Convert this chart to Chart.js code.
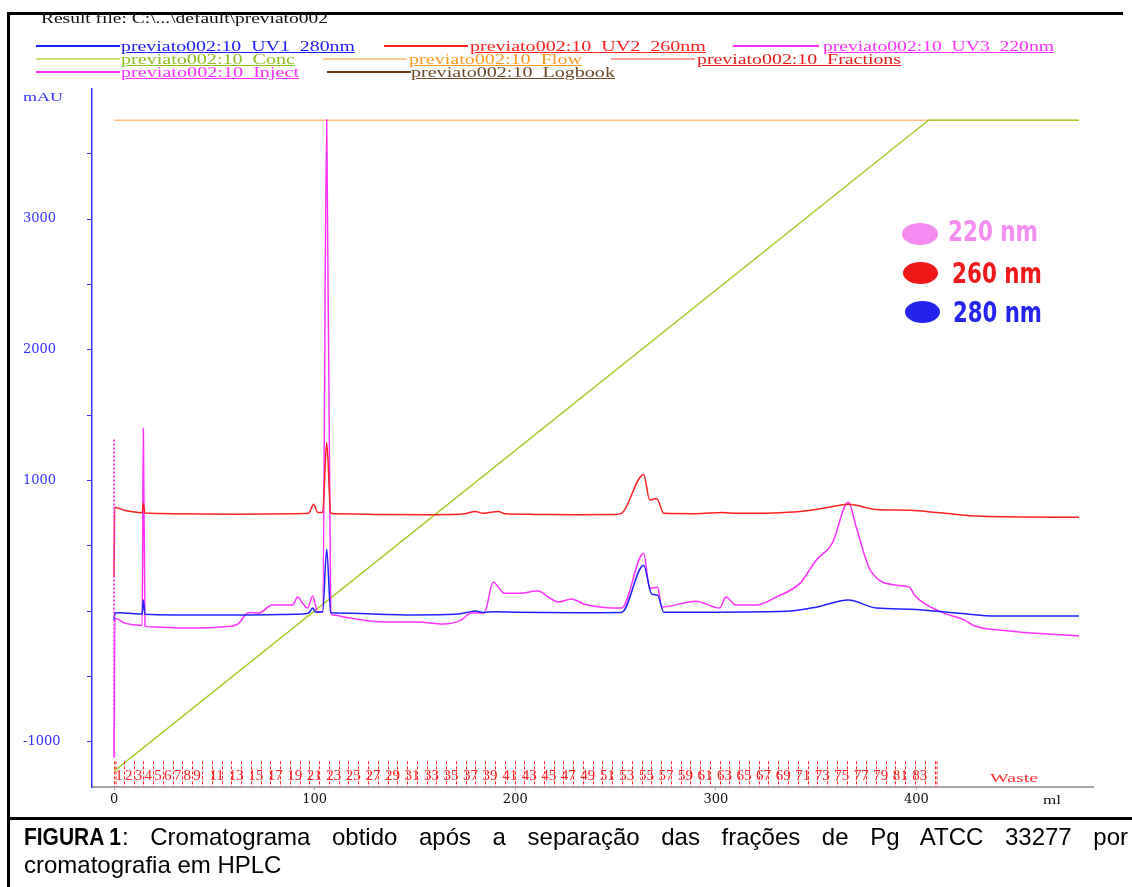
<!DOCTYPE html>
<html>
<head>
<meta charset="utf-8">
<script src="https://cdn.jsdelivr.net/npm/chart.js@4.4.0/dist/chart.umd.min.js"></script>
<style>
html, body { margin: 0; padding: 0; background: #fff; }
#wrap { position: relative; width: 1132px; height: 887px; overflow: hidden; }
#chart { position: absolute; left: 0; top: 0; }
.t { position: absolute; white-space: nowrap; transform-origin: 0 50%;
     font-family: "Liberation Serif", "Times New Roman", serif; font-size: 14px; line-height: 14px; }
.u { text-decoration: underline; }
.ln { position: absolute; height: 2px; }
.bar { position: absolute; background: #000; }
.dot { position: absolute; border-radius: 50%; }
.nm { position: absolute; white-space: nowrap; transform-origin: 0 50%;
      font-family: "DejaVu Sans Condensed", "DejaVu Sans", sans-serif; font-stretch: condensed;
      font-weight: bold; font-size: 29px; line-height: 29px; }
.cap { position: absolute; left: 24px; width: 1104px; white-space: nowrap;
       font-family: "Liberation Sans", Arial, sans-serif; font-size: 24px; line-height: 28px; color: #000; }
#cap1 { top: 823px; text-align: justify; text-align-last: justify; white-space: normal; }
#cap2 { top: 851px; }
#fig { display: inline-block; width: 98px; }
#fig b { display: inline-block; transform-origin: 0 50%; white-space: nowrap; }
</style>
</head>
<body>
<div id="wrap">
  <canvas id="chart" width="1132" height="887"></canvas>

  <!-- frame -->
  <div class="bar" style="left:7px;top:12px;width:3px;height:875px"></div>
  <div class="bar" style="left:7px;top:12px;width:1116px;height:3px"></div>
  <div class="bar" style="left:7px;top:817px;width:1125px;height:3px"></div>

  <div class="t" style="left:41px;top:11px;font-size:15px;line-height:15px;color:#111" data-w="287">Result file: C:\...\default\previato002</div>

  <!-- legend row 1 -->
  <div class="ln" style="left:36px;top:45px;width:84px;background:#2020ff"></div>
  <div class="t u" style="left:121px;top:40px;color:#2020ff" data-w="234">previato002:10_UV1_280nm</div>
  <div class="ln" style="left:384px;top:45px;width:84px;background:#ff2020"></div>
  <div class="t u" style="left:470px;top:40px;color:#ff2020" data-w="236">previato002:10_UV2_260nm</div>
  <div class="ln" style="left:733px;top:45px;width:86px;background:#ff30ff"></div>
  <div class="t u" style="left:823px;top:40px;color:#ff30ff" data-w="231">previato002:10_UV3_220nm</div>
  <!-- legend row 2 -->
  <div class="ln" style="left:36px;top:58px;width:84px;background:#c6e07c"></div>
  <div class="t u" style="left:121px;top:53px;color:#8cbf1e" data-w="174">previato002:10_Conc</div>
  <div class="ln" style="left:323px;top:58px;width:84px;background:#ffc88c"></div>
  <div class="t u" style="left:409px;top:53px;color:#ff9a20" data-w="173">previato002:10_Flow</div>
  <div class="ln" style="left:611px;top:58px;width:84px;background:#ffa0a0"></div>
  <div class="t u" style="left:697px;top:53px;color:#e81818" data-w="204">previato002:10_Fractions</div>
  <!-- legend row 3 -->
  <div class="ln" style="left:36px;top:71px;width:84px;background:#ff30ff"></div>
  <div class="t u" style="left:121px;top:66px;color:#ff30ff" data-w="178">previato002:10_Inject</div>
  <div class="ln" style="left:327px;top:71px;width:84px;background:#6b3a10"></div>
  <div class="t u" style="left:411px;top:66px;color:#6b4a2a" data-w="204">previato002:10_Logbook</div>

  <!-- axis units -->
  <div class="t" style="left:23px;top:90px;font-size:13px;color:#3030ff" data-w="40">mAU</div>
  <div class="t" style="left:1043px;top:793px;font-size:13px;color:#111" data-w="18">ml</div>
  <div class="t" style="left:990px;top:771px;font-size:13px;color:#ff3030" data-w="48">Waste</div>

  <!-- wavelength key -->
  <div class="dot" style="left:902px;top:223px;width:36px;height:22px;background:#f58cf2"></div>
  <div class="nm" style="left:948px;top:217px;color:#f58cf2" data-w="90">220 nm</div>
  <div class="dot" style="left:903px;top:262px;width:35px;height:22px;background:#f01818"></div>
  <div class="nm" style="left:952px;top:259px;color:#f01818" data-w="90">260 nm</div>
  <div class="dot" style="left:905px;top:301px;width:35px;height:22px;background:#2424ee"></div>
  <div class="nm" style="left:953px;top:298px;color:#2424ee" data-w="89">280 nm</div>

  <div class="cap" id="cap1"><span id="fig"><b data-w="97">FIGURA 1</b></span>: Cromatograma obtido após a separação das frações de Pg ATCC 33277 por</div>
  <div class="cap" id="cap2">cromatografia em HPLC</div>
</div>

<script>
// UV1 280 nm
const uv280Ml  = [0, 0.4, 3, 10, 14, 14.6, 15.4, 30, 60, 90, 97, 99, 100.5, 104, 106, 108, 110, 150, 170, 176,
                  180, 184, 190, 200, 230, 253, 264, 268, 271, 274, 300, 335, 350, 366, 380, 397, 420, 440, 481];
const uv280MAU = [-69, -15, -12, -20, -23, 84, -25, -30, -30, -25, -15, 23, -8, -5, 473, -10, -15, -30, -25, -10,
                  0, -10, -5, -8, -12, -10, 351, 130, 122, -8, -8, -2, 30, 84, 23, 15, -15, -38, -38];

// UV2 260 nm
const uv260Ml  = [0, 0.3, 5, 12, 14, 14.6, 15.4, 30, 60, 90, 97, 99.5, 101.5, 104, 106, 108, 110, 130, 160, 175,
                  180, 184, 191.5, 195, 210, 230, 250, 253, 264, 267, 270.5, 274, 290, 303.5, 310, 342, 355, 366, 380, 397,
                  410, 433, 481];
const uv260MAU = [267, 794, 772, 755, 752, 825, 750, 745, 742, 745, 748, 817, 755, 755, 1290, 752, 745, 740, 738, 745,
                  763, 748, 763, 745, 740, 738, 740, 748, 1046, 850, 862, 748, 745, 755, 748, 763, 790, 817, 778, 771,
                  755, 725, 718];

// UV3 220 nm
const uv220Ml  = [0, 0.4, 5, 10, 14, 14.6, 15.4, 20, 35, 50, 55, 62, 66, 68, 72, 79, 89, 91.5, 94, 96.5,
                  99, 101.5, 104, 106, 108, 109, 117.5, 134, 151, 164, 173, 178, 184.5, 189, 194.5, 201.5, 211.5, 216.5, 221.5, 228,
                  234.5, 253, 264, 267, 271, 273, 290, 302, 305, 310, 320, 330, 342, 350, 358, 366, 370, 377, 390.5, 396.5,
                  399, 412.5, 424, 429, 441, 481];
const uv220MAU = [-1120, -55, -90, -105, -110, 1397, -115, -122, -130, -125, -120, -95, -20, -10, -15, 46, 46, 107, 60, 23,
                  115, -8, -5, 3760, -10, -30, -53, -84, -84, -99, -69, -15, -15, 221, 137, 137, 153, 107, 69, 92,
                  53, 23, 443, 176, 183, 31, 76, 23, 107, 46, 46, 107, 214, 389, 519, 832, 641, 313, 198, 183,
                  122, -8, -69, -114, -145, -191];

// gradient (Conc) and Flow, drawn in the mAU frame of the plot
const concMl  = [0, 406, 481];
const concMAU = [-1224, 3756, 3756];
const flowMl  = [0, 481];
const flowMAU = [3756, 3756];

// inject mark
const injectMl  = [0, 0];
const injectMAU = [-1120, 1328];

// fraction collector
const fractionCount = 84;
const fractionEndMl = 409;
const fractionTopMAU = -1150;

// axis ticks
const xTicks = [0, 100, 200, 300, 400];
const yTicks = [-1000, -500, 0, 500, 1000, 1500, 2000, 2500, 3000, 3500];
const yLabels = [-1000, 1000, 2000, 3000];

function pts(xs, ys) { return xs.map((x, i) => ({ x: x, y: ys[i] })); }

const fractionsPlugin = {
    id: 'fractions',
    afterDatasetsDraw(chart) {
        const { ctx, chartArea } = chart;
        const x = chart.scales.x, y = chart.scales.y;
        const w = fractionEndMl / fractionCount;
        const top = y.getPixelForValue(fractionTopMAU);
        const bottom = chartArea.bottom;
        ctx.save();
        ctx.strokeStyle = '#ff2020';
        ctx.lineWidth = 1;
        ctx.setLineDash([3, 2]);
        for (let k = 0; k <= fractionCount; k++) {
            const px = Math.round(x.getPixelForValue(k * w)) + 0.5;
            ctx.beginPath();
            ctx.moveTo(px, top);
            ctx.lineTo(px, bottom);
            ctx.stroke();
            if (k === 0 || k === fractionCount) {
                ctx.beginPath();
                ctx.moveTo(px + 1.5, top);
                ctx.lineTo(px + 1.5, bottom);
                ctx.stroke();
            }
        }
        ctx.setLineDash([]);
        ctx.fillStyle = '#ff2020';
        ctx.font = '15px "Liberation Serif", serif';
        ctx.textAlign = 'center';
        ctx.textBaseline = 'middle';
        const ly = (top + bottom) / 2 + 2;
        let lastRight = -Infinity;
        for (let k = 1; k <= fractionCount; k++) {
            const cx = x.getPixelForValue((k - 0.5) * w);
            const label = String(k);
            const tw = ctx.measureText(label).width;
            if (cx - tw / 2 < lastRight + 1) continue;
            ctx.fillText(label, cx, ly);
            lastRight = cx + tw / 2;
        }
        ctx.restore();
    }
};

const straight = { cubicInterpolationMode: 'default', tension: 0 };

new Chart(document.getElementById('chart'), {
    type: 'scatter',
    data: {
        datasets: [
            Object.assign({ label: 'Inject', data: pts(injectMl, injectMAU), borderColor: '#ff40ff', borderWidth: 2, borderDash: [2, 2] }, straight),
            { label: 'UV1_280nm', data: pts(uv280Ml, uv280MAU), borderColor: '#2020ff' },
            { label: 'UV2_260nm', data: pts(uv260Ml, uv260MAU), borderColor: '#ff2020' },
            { label: 'UV3_220nm', data: pts(uv220Ml, uv220MAU), borderColor: '#ff30ff' },
            Object.assign({ label: 'Conc', data: pts(concMl, concMAU), borderColor: '#a6cc2e' }, straight),
            Object.assign({ label: 'Flow', data: pts(flowMl, flowMAU), borderColor: '#ffbf80' }, straight)
        ]
    },
    options: {
        responsive: false,
        animation: false,
        showLine: true,
        layout: { padding: { left: 23, top: 89, right: 39, bottom: 0 } },
        plugins: { legend: { display: false }, tooltip: { enabled: false } },
        elements: {
            point: { radius: 0 },
            line: { borderWidth: 1.5, cubicInterpolationMode: 'monotone' }
        },
        scales: {
            x: {
                type: 'linear',
                min: -11,
                max: 488,
                afterBuildTicks(s) { s.ticks = xTicks.map(v => ({ value: v })); },
                afterFit(s) { s.height = 100; },
                border: { color: '#a8a8a8', width: 2 },
                grid: { drawOnChartArea: false, drawTicks: true, tickLength: 3, tickColor: '#a8a8a8' },
                ticks: {
                    padding: 2,
                    maxRotation: 0,
                    autoSkip: false,
                    color: '#111',
                    font: { family: '"DejaVu Serif", serif', size: 13 },
                    callback: v => String(v)
                }
            },
            y: {
                type: 'linear',
                min: -1346,
                max: 3995,
                afterBuildTicks(s) { s.ticks = yTicks.map(v => ({ value: v })); },
                afterFit(s) { s.width = 69; },
                border: { color: '#3030ff', width: 1.5 },
                grid: { drawOnChartArea: false, drawTicks: true, tickLength: 5, tickColor: '#3030ff' },
                ticks: {
                    autoSkip: false,
                    crossAlign: 'far',
                    color: '#3030ff',
                    font: { family: '"DejaVu Serif", serif', size: 13 },
                    callback: v => yLabels.includes(v) ? String(v) : ''
                }
            }
        }
    },
    plugins: [fractionsPlugin]
});

// stretch overlay texts to the widths they have in the figure
document.querySelectorAll('[data-w]').forEach(el => {
    const w = el.getBoundingClientRect().width;
    if (w > 0) el.style.transform = 'scaleX(' + (parseFloat(el.dataset.w) / w).toFixed(3) + ')';
});
</script>
</body>
</html>
